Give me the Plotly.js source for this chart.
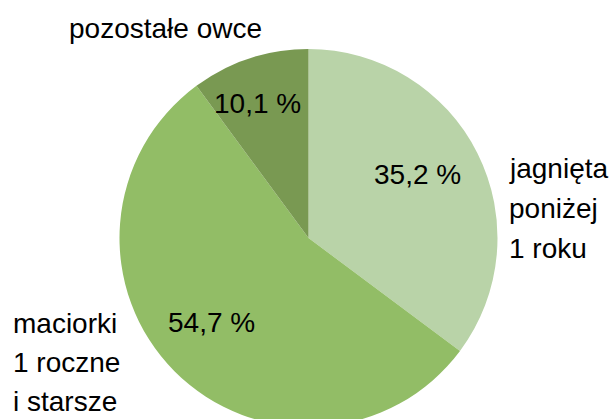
<!DOCTYPE html>
<html>
<head>
<meta charset="utf-8">
<script src="https://cdn.plot.ly/plotly-3.0.1.min.js"></script>
<style>
html, body { margin: 0; padding: 0; overflow: hidden; background: #ffffff; }
#chart { width: 615px; height: 440px; }
</style>
</head>
<body>
<div id="chart"></div>
<script>
// Data
const categories = ["jagnięta poniżej 1 roku", "maciorki 1 roczne i starsze", "pozostałe owce"];
const shares = [35.2, 54.7, 10.1];
const sliceColors = ["#B9D3A8", "#92BD66", "#799952"];
// Outside label lines per category
const labelLines = [
  ["jagnięta", "poniżej", "1 roku"],
  ["maciorki", "1 roczne", "i starsze"],
  ["pozostałe owce"]
];

const W = 615, H = 440;
const FONT = "Liberation Sans, Arial, sans-serif";
const FS = 28;
const px = (x) => x / W;
const py = (y) => 1 - y / H;

// Layout positions (pixels): outside labels (left x, first line center y, line step)
const labelPos = [
  { x: 507, y: 168.5, step: 40 },
  { x: 11, y: 323.5, step: 39 },
  { x: 67, y: 28.5, step: 40 }
];
// Layout positions (pixels) for the percentage labels inside slices (centers)
const pctPos = [
  { x: 417, y: 174 },
  { x: 211, y: 322.5 },
  { x: 257, y: 104 }
];

const fmt = (v) => v.toFixed(1).replace(".", ",") + " %";

const annotations = [];
labelLines.forEach((lines, i) => {
  lines.forEach((t, j) => {
    annotations.push({
      text: t,
      xref: "paper", yref: "paper",
      x: px(labelPos[i].x), y: py(labelPos[i].y + j * labelPos[i].step),
      xanchor: "left", yanchor: "middle",
      showarrow: false,
      font: { family: FONT, size: FS, color: "#000000" }
    });
  });
});
shares.forEach((v, i) => {
  annotations.push({
    text: fmt(v),
    xref: "paper", yref: "paper",
    x: px(pctPos[i].x), y: py(pctPos[i].y),
    xanchor: "center", yanchor: "middle",
    showarrow: false,
    font: { family: FONT, size: FS, color: "#000000" }
  });
});

const trace = {
  type: "pie",
  labels: categories,
  values: shares,
  sort: false,
  direction: "clockwise",
  rotation: 0,
  marker: { colors: sliceColors, line: { width: 0 } },
  textinfo: "none",
  hoverinfo: "none",
  showlegend: false,
  domain: { x: [119.5 / W, 497.5 / W], y: [(H - 427) / H, (H - 49) / H] }
};

const layout = {
  width: W, height: H,
  margin: { l: 0, r: 0, t: 0, b: 0 },
  paper_bgcolor: "#ffffff",
  plot_bgcolor: "#ffffff",
  separators: ", ",
  showlegend: false,
  annotations: annotations
};

Plotly.newPlot("chart", [trace], layout, { displayModeBar: false, staticPlot: true });
</script>
</body>
</html>
